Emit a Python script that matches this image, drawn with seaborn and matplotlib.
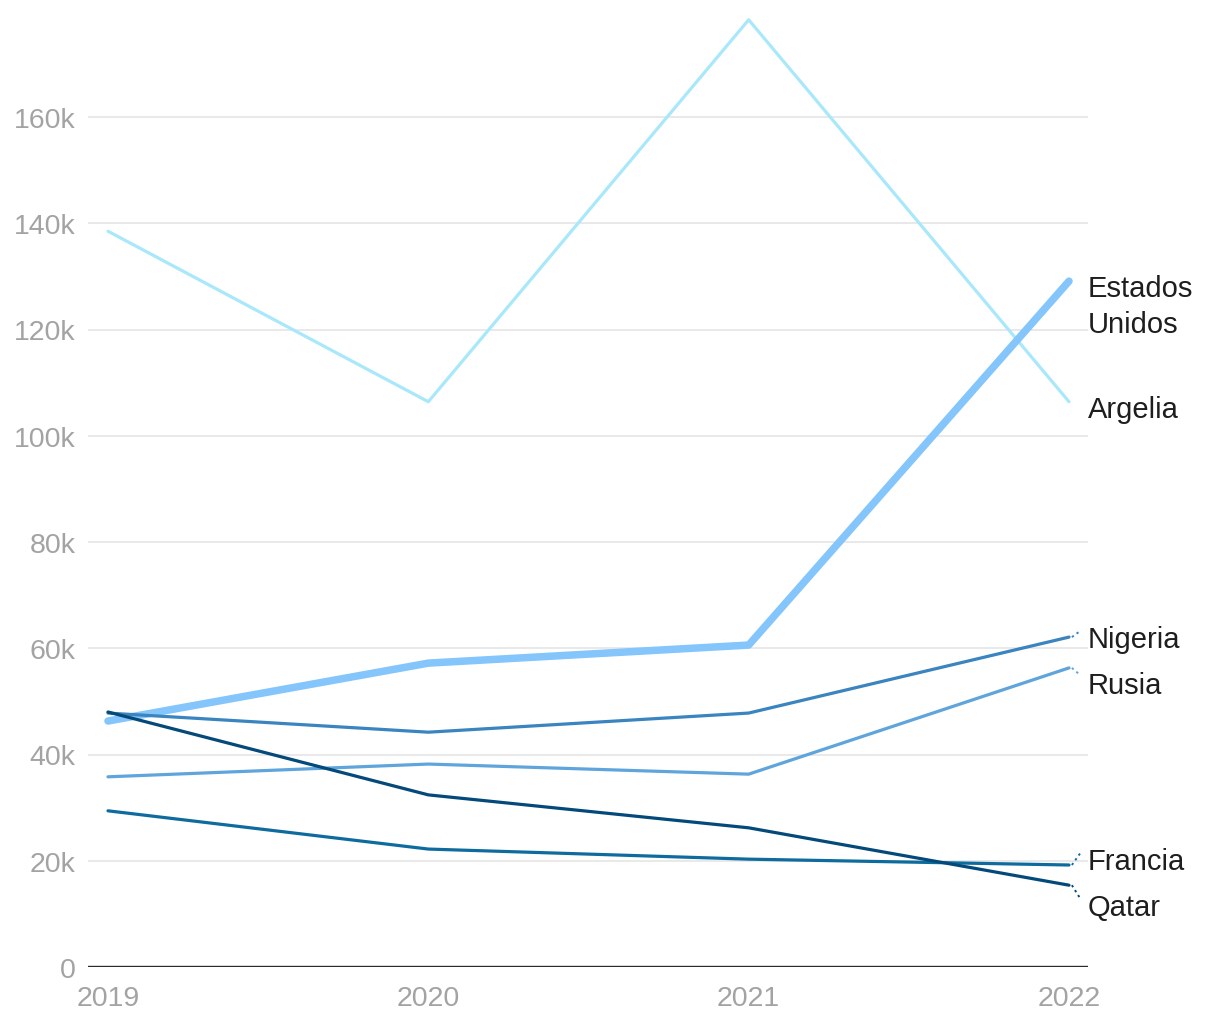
import matplotlib
matplotlib.use("Agg")
import matplotlib.pyplot as plt
import seaborn as sns
import pandas as pd

years = [2019, 2020, 2021, 2022]
argelia = [138.5, 106.4, 178.3, 106.4]
estados_unidos = [46.3, 57.2, 60.6, 129.1]
nigeria = [47.8, 44.2, 47.8, 62.1]
rusia = [35.8, 38.2, 36.3, 56.3]
francia = [29.4, 22.2, 20.3, 19.2]
qatar = [48.0, 32.4, 26.2, 15.4]

countries = ["Argelia", "Estados Unidos", "Nigeria", "Rusia", "Francia", "Qatar"]
series = [argelia, estados_unidos, nigeria, rusia, francia, qatar]
label_texts = ["Argelia", "Estados\nUnidos", "Nigeria", "Rusia", "Francia", "Qatar"]
yticks = [0, 20, 40, 60, 80, 100, 120, 140, 160]
ytick_labels = ["0", "20k", "40k", "60k", "80k", "100k", "120k", "140k", "160k"]

# layout / style (not data)
colors = {"Argelia": "#a9e8fb", "Estados Unidos": "#84c5fb", "Nigeria": "#3a84bf",
          "Rusia": "#5fa5dc", "Francia": "#0e6b9e", "Qatar": "#03497a"}
widths = {"Argelia": 2.3, "Estados Unidos": 5.4, "Nigeria": 2.3, "Rusia": 2.3,
          "Francia": 2.3, "Qatar": 2.3}
label_pos = {"Argelia": 105.0, "Estados Unidos": 124.4, "Nigeria": 61.7,
             "Rusia": 53.1, "Francia": 19.9, "Qatar": 11.3}
leader_dy = {"Nigeria": 1.2, "Rusia": -1.4, "Francia": 2.3, "Qatar": -2.6}

rows = []
for c, vals in zip(countries, series):
    for y, v in zip(years, vals):
        rows.append({"year": y, "value": v, "country": c})
df = pd.DataFrame(rows)

sns.set_theme(style="white")
plt.rcParams["font.family"] = ["Liberation Sans", "DejaVu Sans"]

fig = plt.figure(figsize=(12.2, 10.2), dpi=100)
ax = fig.add_axes([88 / 1220, 52 / 1020, 1000 / 1220, (968 - 11.75) / 1020])

for g in yticks[1:]:
    ax.axhline(g, color="#e3e3e3", lw=1.1, zorder=0)
ax.axhline(0, color="#2a2a2a", lw=1.7, zorder=1)

sns.lineplot(data=df, x="year", y="value", hue="country", size="country",
             palette=colors, sizes=widths, hue_order=countries, size_order=countries,
             legend=False, ax=ax, solid_capstyle="round", zorder=3)

for c, vals, txt in zip(countries, series, label_texts):
    v = vals[-1]
    if c in leader_dy:
        ax.plot([2022.009, 2022.036], [v, v + leader_dy[c]], color=colors[c],
                lw=1.4, ls=(0, (1.2, 1.8)), zorder=2, clip_on=False)
    ax.text(2022.0593, label_pos[c], txt, ha="left", va="center", fontsize=21,
            color="#1e1e1e", linespacing=1.35, clip_on=False)

ax.set_xlim(2018.9376, 2022.0593)
ax.set_ylim(0, 180)
ax.set_xticks(years)
ax.set_xticklabels([str(y) for y in years])
ax.set_yticks(yticks)
ax.set_yticklabels(ytick_labels)
ax.tick_params(axis="both", length=0, labelsize=20.5, labelcolor="#a3a3a3")
ax.tick_params(axis="y", pad=9)
ax.tick_params(axis="x", pad=13)
ax.set_xlabel("")
ax.set_ylabel("")
for s in ax.spines.values():
    s.set_visible(False)
ax.patch.set_alpha(0)

fig.savefig("out.png", dpi=100)
